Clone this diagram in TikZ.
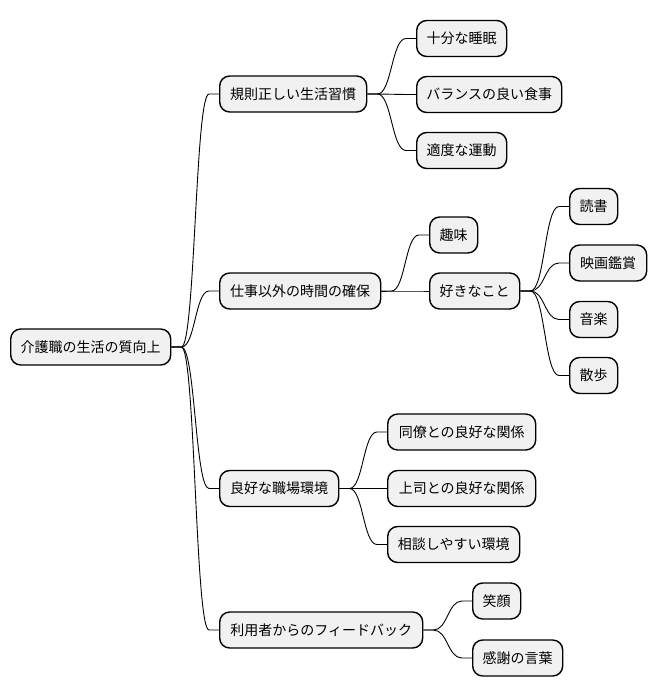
\documentclass[tikz,border=0pt]{standalone}
\usepackage{fontspec}
\newfontfamily\jp{Noto Sans CJK JP}
\usetikzlibrary{calc}
\definecolor{boxfill}{HTML}{F1F1F1}
\tikzset{
  mm/.style={draw=black, line width=1.4pt, fill=boxfill, rounded corners=10pt,
    minimum height=36pt, inner sep=0pt, anchor=west, align=center,
    font=\jp\fontsize{14}{16}\selectfont, text=black},
  link/.style={draw=black, line width=0.9pt}
}
\newcommand\mmconn[2]{%
  \path (#1.east) ++(10,0) coordinate (mmp);
  \path (#2.west) ++(-10,0) coordinate (mmq);
  \coordinate (mmm) at ($(mmp)!.5!(mmq)$);
  \draw[link] (#1.east) -- (mmp) .. controls (mmm |- mmp) and (mmm |- mmq) .. (mmq) -- (#2.west);
}
\begin{document}
\begin{tikzpicture}[x=1pt,y=-1pt]
\useasboundingbox (0,0) rectangle (656,696);
% root
\node[mm, minimum width=160pt] (root) at (10,347) {介護職の生活の質向上};
% level 1
\node[mm, minimum width=147pt] (a) at (219,94) {規則正しい生活習慣};
\node[mm, minimum width=161pt] (b) at (219,291) {仕事以外の時間の確保};
\node[mm, minimum width=119pt] (c) at (219,488.5) {良好な職場環境};
\node[mm, minimum width=203pt] (d) at (219,630) {利用者からのフィードバック};
% under a
\node[mm, minimum width=90pt] (a1) at (416,38.5) {十分な睡眠};
\node[mm, minimum width=145pt] (a2) at (416,94.5) {バランスの良い食事};
\node[mm, minimum width=90pt] (a3) at (416,150.5) {適度な運動};
% under b
\node[mm, minimum width=48pt] (b1) at (429,235) {趣味};
\node[mm, minimum width=90pt] (b2) at (429,291) {好きなこと};
% under b2
\node[mm, minimum width=48pt] (b21) at (569,206.5) {読書};
\node[mm, minimum width=77pt] (b22) at (569,263) {映画鑑賞};
\node[mm, minimum width=48pt] (b23) at (569,319.5) {音楽};
\node[mm, minimum width=48pt] (b24) at (569,375.5) {散歩};
% under c
\node[mm, minimum width=148pt] (c1) at (387,432) {同僚との良好な関係};
\node[mm, minimum width=148pt] (c2) at (387,488.5) {上司との良好な関係};
\node[mm, minimum width=132pt] (c3) at (387,544.5) {相談しやすい環境};
% under d
\node[mm, minimum width=48pt] (d1) at (472,601) {笑顔};
\node[mm, minimum width=90pt] (d2) at (472,658) {感謝の言葉};
% connectors
\mmconn{root}{a}\mmconn{root}{b}\mmconn{root}{c}\mmconn{root}{d}
\mmconn{a}{a1}\mmconn{a}{a2}\mmconn{a}{a3}
\mmconn{b}{b1}\mmconn{b}{b2}
\mmconn{b2}{b21}\mmconn{b2}{b22}\mmconn{b2}{b23}\mmconn{b2}{b24}
\mmconn{c}{c1}\mmconn{c}{c2}\mmconn{c}{c3}
\mmconn{d}{d1}\mmconn{d}{d2}
\end{tikzpicture}
\end{document}
